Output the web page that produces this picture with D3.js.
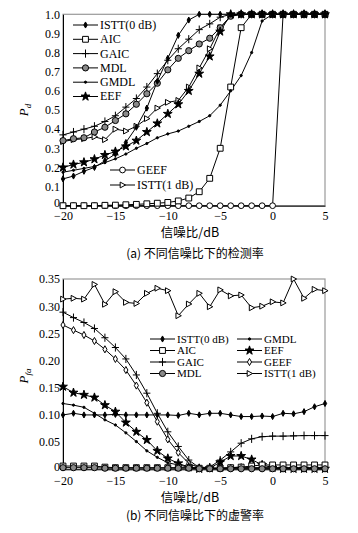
<!DOCTYPE html>
<html><head><meta charset="utf-8">
<script src="https://cdn.jsdelivr.net/npm/d3@7/dist/d3.min.js"></script>
<style>
body{margin:0;background:#fff}
svg text{font-family:"Liberation Serif","Times New Roman",serif;fill:#000}
.cjk{font-family:"Noto Sans CJK SC","Liberation Serif",serif}
</style>
</head><body>
<svg id="c" width="358" height="533"></svg>
<script>
// ---------- data ----------
const snr = [-20,-19,-18,-17,-16,-15,-14,-13,-12,-11,-10,-9,-8,-7,-6,-5,-4,-3,-2,-1,0,1,2,3,4,5];
const xTickValues = [-20,-15,-10,-5,0,5];
const xTickLabels = ["\u221220","\u221215","\u221210","\u22125","0","5"];
const pdTickValues = [0,0.1,0.2,0.3,0.4,0.5,0.6,0.7,0.8,0.9,1.0];
const pdTickLabels = ["0","0.1","0.2","0.3","0.4","0.5","0.6","0.7","0.8","0.9","1.0"];
const faTickValues = [0,0.05,0.10,0.15,0.20,0.25,0.30,0.35];
const faTickLabels = ["0","0.05","0.10","0.15","0.20","0.25","0.30","0.35"];

// detection probability (a)
const pdISTT0 = [0.14,0.155,0.18,0.20,0.235,0.27,0.33,0.41,0.51,0.65,0.77,0.89,0.97,1,1,1,1,1,1,1,1,1,1,1,1,1];
const pdAIC   = [0,0,0,0,0.002,0.003,0.005,0.007,0.01,0.013,0.017,0.025,0.04,0.073,0.143,0.30,0.62,0.93,1,1,1,1,1,1,1,1];
const pdGAIC  = [0.37,0.385,0.40,0.415,0.44,0.47,0.515,0.56,0.62,0.69,0.76,0.82,0.87,0.92,0.95,0.985,1,1,1,1,1,1,1,1,1,1];
const pdMDL   = [0.34,0.35,0.355,0.385,0.41,0.445,0.48,0.53,0.585,0.64,0.71,0.77,0.81,0.845,0.875,0.93,0.99,1,1,1,1,1,1,1,1,1];
const pdGMDL  = [0.175,0.185,0.195,0.205,0.225,0.245,0.27,0.30,0.325,0.355,0.375,0.39,0.415,0.44,0.47,0.525,0.60,0.68,0.80,0.965,1,1,1,1,1,1];
const pdEEF   = [0.20,0.215,0.227,0.243,0.265,0.283,0.31,0.34,0.385,0.43,0.48,0.53,0.60,0.69,0.78,0.91,1,1,1,1,1,1,1,1,1,1];
const pdGEEF  = [0,0,0,0,0,0,0,0,0,0,0,0,0,0,0,0,0,0,0,0,0,1,1,1,1,1];
const pdISTT1 = [0.335,0.345,0.35,0.36,0.345,0.40,0.39,0.415,0.455,0.51,0.54,0.55,0.62,0.72,0.82,0.93,0.99,1,1,1,1,1,1,1,1,1];

// false alarm probability (b)
const faISTT0 = [0.100,0.103,0.100,0.100,0.100,0.101,0.100,0.100,0.100,0.100,0.100,0.099,0.103,0.100,0.103,0.103,0.100,0.097,0.097,0.098,0.097,0.103,0.102,0.106,0.115,0.121];
const faAIC   = [0.006,0.006,0.006,0.006,0.004,0.003,0.003,0.003,0.003,0.003,0.003,0.003,0.003,0.002,0.002,0.002,0.003,0.004,0.006,0.008,0.008,0.008,0.008,0.008,0.008,0.008];
const faGAIC  = [0.289,0.279,0.270,0.259,0.242,0.224,0.203,0.1735,0.14,0.103,0.069,0.042,0.017,0.003,0.004,0.017,0.032,0.048,0.056,0.060,0.061,0.061,0.0615,0.062,0.062,0.062];
const faMDL   = [0.003,0.003,0.003,0.003,0.002,0.002,0.002,0.002,0.002,0.002,0.002,0.002,0.002,0.001,0.001,0.001,0.001,0.001,0.001,0.001,0.001,0.001,0.001,0.001,0.001,0.001];
const faGMDL  = [0.121,0.118,0.114,0.103,0.091,0.0815,0.067,0.051,0.034,0.022,0.012,0.008,0.004,0.002,0.002,0.002,0.002,0.002,0.002,0.002,0.002,0.002,0.002,0.002,0.002,0.002];
const faEEF   = [0.152,0.141,0.137,0.132,0.118,0.106,0.086,0.069,0.054,0.034,0.020,0.011,0.004,0.001,0.002,0.013,0.0245,0.0245,0.018,0.008,0.003,0.001,0.001,0.001,0.001,0.001];
const faGEEF  = [0.2654,0.256,0.247,0.236,0.2207,0.203,0.1826,0.154,0.1225,0.0876,0.055,0.0306,0.011,0.003,0.002,0.002,0.003,0.004,0.003,0.003,0.003,0.003,0.003,0.003,0.003,0.003];
const faISTT1 = [0.313,0.3145,0.313,0.340,0.3035,0.3267,0.307,0.305,0.3237,0.333,0.3285,0.2825,0.304,0.3237,0.299,0.33,0.319,0.3206,0.297,0.300,0.308,0.306,0.35,0.3145,0.331,0.3285];

const names = ["ISTT(0 dB)","AIC","GAIC","MDL","GMDL","EEF","GEEF","ISTT(1 dB)"];

// ---------- marker shapes (d3 symbol types) ----------
const symCross = {draw(ctx,s){const r=Math.sqrt(s)/2; ctx.moveTo(-r,0);ctx.lineTo(r,0);ctx.moveTo(0,-r*1.15);ctx.lineTo(0,r*1.15);}};
const symDiamondTall = {draw(ctx,s){const r=Math.sqrt(s)/2; ctx.moveTo(0,-r*1.3);ctx.lineTo(r*0.75,0);ctx.lineTo(0,r*1.3);ctx.lineTo(-r*0.75,0);ctx.closePath();}};
const symTriRight = {draw(ctx,s){const r=Math.sqrt(s)/2; ctx.moveTo(-r*0.8,-r);ctx.lineTo(r*1.05,0);ctx.lineTo(-r*0.8,r);ctx.closePath();}};
const symISTT0 = {draw(ctx,s){const r=Math.sqrt(s)/2; ctx.moveTo(0,-r*1.3);ctx.lineTo(r*0.7,0);ctx.lineTo(0,r*1.3);ctx.lineTo(-r*0.7,0);ctx.closePath();}};

const styleA = {
  "ISTT(0 dB)":{type:symISTT0,size:22,fill:"#000"},
  "AIC":{type:d3.symbolSquare,size:34,fill:"#fff"},
  "GAIC":{type:symCross,size:50,fill:"none"},
  "MDL":{type:d3.symbolCircle,size:30,fill:"#8a8a8a"},
  "GMDL":{type:d3.symbolCircle,size:4,fill:"#000"},
  "EEF":{type:d3.symbolStar,size:24,fill:"#000"},
  "GEEF":{type:d3.symbolCircle,size:26,fill:"#fff"},
  "ISTT(1 dB)":{type:symTriRight,size:34,fill:"#fff"}
};
const styleB = Object.assign({}, styleA, {"GEEF":{type:symDiamondTall,size:30,fill:"#fff"}});

const svg = d3.select("#c");

function drawPanel(opt){
  const x = d3.scaleLinear().domain([-20,5]).range([63,325]);
  const y = d3.scaleLinear().domain(opt.domain).range([opt.bottom,opt.top]);
  const g = svg.append("g");
  // frame
  g.append("rect").attr("x",63).attr("y",opt.top).attr("width",262).attr("height",opt.bottom-opt.top)
    .attr("fill","none").attr("stroke","#9a9a9a").attr("stroke-width",1.2);
  // axes
  const ax = g.append("g").attr("transform",`translate(0,${opt.bottom})`)
    .call(d3.axisBottom(x).tickValues(xTickValues).tickFormat((d,i)=>xTickLabels[i]).tickSize(0).tickPadding(opt.xpad));
  const ay = g.append("g").attr("transform","translate(63,0)")
    .call(d3.axisLeft(y).tickValues(opt.ticks).tickFormat((d,i)=>opt.tickLabels[i]).tickSize(0).tickPadding(3));
  [ax,ay].forEach(a=>{a.select(".domain").attr("stroke","#000").attr("stroke-width",1);
    a.selectAll("text").style("font-family","'Liberation Serif',serif").style("font-size","12px").attr("fill","#000");});
  // nudge the y "0" label up slightly so it does not collide with the x label
  ay.selectAll(".tick text").filter((d,i)=>i===0).attr("dy","0.1em");
  // series
  const line = d3.line().x((d,i)=>x(snr[i])).y(d=>y(d));
  const order = opt.order;
  order.forEach(name=>{
    const vals = opt.series[name];
    g.append("path").datum(vals).attr("d",line).attr("fill","none").attr("stroke","#000").attr("stroke-width",1);
  });
  order.forEach(name=>{
    const vals = opt.series[name], st = opt.styles[name];
    const sym = d3.symbol().type(st.type).size(st.size);
    g.append("g").selectAll("path").data(vals).join("path")
      .attr("transform",(d,i)=>`translate(${x(snr[i])},${y(d)})`)
      .attr("d",sym).attr("fill",st.fill).attr("stroke","#000").attr("stroke-width",1);
  });
  // legend
  opt.legend.forEach(e=>{
    const st = opt.styles[e.name];
    g.append("line").attr("x1",e.x).attr("x2",e.x+25).attr("y1",e.y).attr("y2",e.y).attr("stroke","#000").attr("stroke-width",1);
    g.append("path").attr("transform",`translate(${e.x+12.5},${e.y})`).attr("d",d3.symbol().type(st.type).size(st.size))
      .attr("fill",st.fill).attr("stroke","#000");
    g.append("text").attr("x",e.x+27).attr("y",e.y).attr("dy","0.33em").style("font-size",opt.legFont).text(e.name);
  });
  // y label
  const yl = g.append("text").attr("transform",`translate(${opt.ylx},${opt.yly}) rotate(-90)`).attr("text-anchor","middle")
    .style("font-size","13px");
  yl.append("tspan").style("font-style","italic").text("P");
  yl.append("tspan").style("font-style","italic").style("font-size","9px").attr("dy","3").text(opt.sub);
  // x label & caption
  g.append("text").attr("class","cjk").attr("x",190).attr("y",opt.xlabY).attr("text-anchor","middle")
    .style("font-size","12.5px").text("信噪比/dB");
  g.append("text").attr("class","cjk").attr("x",195).attr("y",opt.capY).attr("text-anchor","middle")
    .style("font-size","12px").text(opt.caption);
}

drawPanel({
  domain:[0,1], top:14.3, bottom:205.7, ticks:pdTickValues, tickLabels:pdTickLabels, xpad:6, legFont:"12px",
  series:{"ISTT(0 dB)":pdISTT0,"AIC":pdAIC,"GAIC":pdGAIC,"MDL":pdMDL,"GMDL":pdGMDL,"EEF":pdEEF,"GEEF":pdGEEF,"ISTT(1 dB)":pdISTT1},
  order:["GEEF","ISTT(1 dB)","AIC","GAIC","GMDL","MDL","EEF","ISTT(0 dB)"],
  styles:styleA,
  legend:[
    {name:"ISTT(0 dB)",x:73,y:25},{name:"AIC",x:73,y:39.3},{name:"GAIC",x:73,y:53.6},
    {name:"MDL",x:73,y:67.9},{name:"GMDL",x:73,y:82.2},{name:"EEF",x:73,y:96.5},
    {name:"GEEF",x:110,y:170},{name:"ISTT(1 dB)",x:110,y:185}
  ],
  ylx:28, yly:110, sub:"d", xlabY:237, capY:258, caption:"(a) 不同信噪比下的检测率"
});

drawPanel({
  domain:[0,0.35], top:279, bottom:469.3, ticks:faTickValues, tickLabels:faTickLabels, xpad:7, legFont:"11px",
  series:{"ISTT(0 dB)":faISTT0,"AIC":faAIC,"GAIC":faGAIC,"MDL":faMDL,"GMDL":faGMDL,"EEF":faEEF,"GEEF":faGEEF,"ISTT(1 dB)":faISTT1},
  order:["ISTT(1 dB)","GAIC","GEEF","GMDL","EEF","AIC","MDL","ISTT(0 dB)"],
  styles:styleB,
  legend:[
    {name:"ISTT(0 dB)",x:150,y:339},{name:"AIC",x:150,y:350.5},{name:"GAIC",x:150,y:362},{name:"MDL",x:150,y:373.5},
    {name:"GMDL",x:237,y:339},{name:"EEF",x:237,y:350.5},{name:"GEEF",x:237,y:362},{name:"ISTT(1 dB)",x:237,y:373.5}
  ],
  ylx:28, yly:376, sub:"fa", xlabY:502, capY:520, caption:"(b) 不同信噪比下的虚警率"
});
</script>
</body></html>
